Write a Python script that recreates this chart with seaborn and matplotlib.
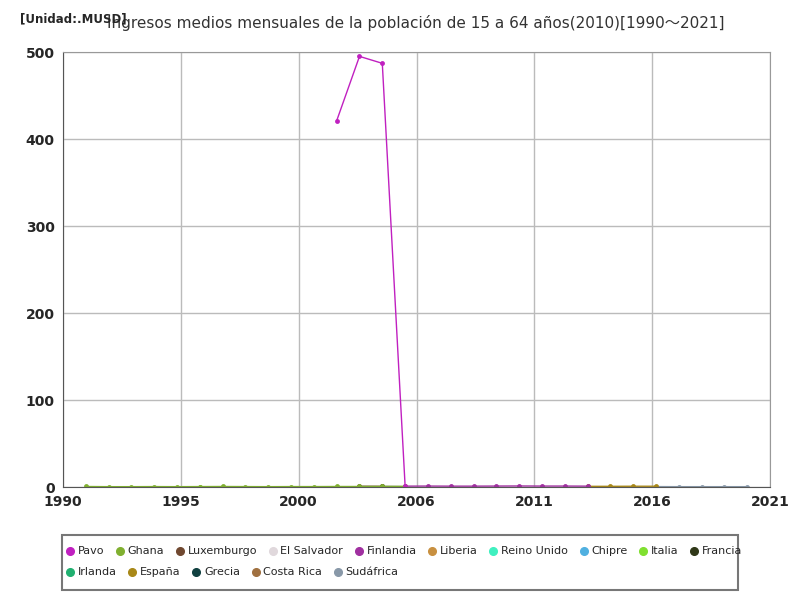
import seaborn as sns
import matplotlib.pyplot as plt
import numpy as np
import pandas as pd
from matplotlib.lines import Line2D
from matplotlib.patches import Rectangle

# datos (Unidad: MUSD)
pavo_years = [2002, 2003, 2004, 2005]
pavo_vals = [421, 495, 487, 1.5]

ghana_years = [1991, 1992, 1993, 1994, 1995, 1996, 1997, 1998, 1999, 2000, 2001, 2002, 2003, 2004, 2005]
ghana_vals = [0.6, 0.4, 0.4, 0.5, 0.4, 0.5, 0.6, 0.5, 0.4, 0.5, 0.5, 0.6, 0.6, 0.7, 0.7]

finlandia_years = [2005, 2006, 2007, 2008, 2009, 2010, 2011, 2012, 2013]
finlandia_vals = [1.0, 1.1, 1.0, 1.0, 1.1, 1.2, 1.1, 1.1, 1.0]

espana_years = [2013, 2014, 2015, 2016]
espana_vals = [0.8, 0.8, 0.9, 0.9]

sudafrica_years = [2016, 2017, 2018, 2019, 2020]
sudafrica_vals = [0.5, 0.4, 0.4, 0.4, 0.4]

luxemburgo_years = [2003, 2004]
luxemburgo_vals = [0.9, 0.8]

italia_years = [1996, 1997]
italia_vals = [0.3, 0.3]

francia_years = [2004, 2005]
francia_vals = [0.6, 0.5]

countries = ['Pavo', 'Ghana', 'Luxemburgo', 'El Salvador', 'Finlandia', 'Liberia', 'Reino Unido',
             'Chipre', 'Italia', 'Francia', 'Irlanda', 'España', 'Grecia', 'Costa Rica', 'Sudáfrica']
colors = ['#c020c0', '#80b030', '#704830', '#e0d8dc', '#a030a0', '#c89040', '#40f0c0',
          '#50b0e0', '#80e030', '#303818', '#20b070', '#a88818', '#104040', '#a07040', '#8898a8']

series = {
    'Pavo': (pavo_years, pavo_vals),
    'Ghana': (ghana_years, ghana_vals),
    'Luxemburgo': (luxemburgo_years, luxemburgo_vals),
    'Finlandia': (finlandia_years, finlandia_vals),
    'Italia': (italia_years, italia_vals),
    'Francia': (francia_years, francia_vals),
    'España': (espana_years, espana_vals),
    'Sudáfrica': (sudafrica_years, sudafrica_vals),
}

rows = []
for name, (ys, vs) in series.items():
    for y, v in zip(ys, vs):
        rows.append({'pais': name, 'anio': y, 'valor': v})
df = pd.DataFrame(rows)

sns.set_style("white")
plt.rcParams['font.family'] = ['DejaVu Sans']

fig = plt.figure(figsize=(8, 6), dpi=100)
ax = fig.add_axes([0.07875, 0.1883, 0.88375, 0.725])

palette = dict(zip(countries, colors))
# dibujar al revés para que Pavo quede encima
for name in list(series.keys())[::-1]:
    sub = df[df['pais'] == name]
    sns.lineplot(data=sub, x='anio', y='valor', color=palette[name], marker='o',
                 markersize=3.5, markeredgewidth=0, linewidth=1, ax=ax, legend=False)

ticks = np.linspace(1990, 2021, 7)
ax.set_xticks(ticks)
ax.set_xticklabels([str(int(np.floor(t + 0.5))) for t in ticks], fontweight='bold', fontsize=10)
ax.set_xlim(1990, 2021)
ax.set_ylim(0, 500)
ax.set_yticks([0, 100, 200, 300, 400, 500])
ax.set_yticklabels(['0', '100', '200', '300', '400', '500'], fontweight='bold', fontsize=10)
ax.set_xlabel('')
ax.set_ylabel('')
ax.grid(True, color='#bbbbbb', linewidth=1)
ax.tick_params(length=0, pad=6)
for s in ['top', 'right']:
    ax.spines[s].set_color('#999999')
for s in ['left', 'bottom']:
    ax.spines[s].set_color('#555555')

fig.text(0.52, 0.962, 'Ingresos medios mensuales de la población de 15 a 64 años(2010)[1990～2021]',
         ha='center', va='center', fontsize=11, color='#333333',
         family=['DejaVu Sans', 'Noto Sans CJK JP'])
fig.text(0.025, 0.968, '[Unidad:.MUSD]', ha='left', va='center', fontsize=8.5, fontweight='bold')

# leyenda en dos filas que fluyen por separado, con un marco común
def make_handles(idx):
    return [Line2D([0], [0], marker='o', linestyle='', color=colors[i], markersize=5.5) for i in idx]

legend_kw = dict(frameon=False, fontsize=8.0, handletextpad=0.3, columnspacing=1.0,
                 borderpad=0, handlelength=0.8, borderaxespad=0)
row1 = list(range(10))
row2 = list(range(10, 15))
leg1 = fig.legend(make_handles(row1), [countries[i] for i in row1], loc='center left',
                  bbox_to_anchor=(0.082, 0.081), ncol=10, **legend_kw)
leg2 = fig.legend(make_handles(row2), [countries[i] for i in row2], loc='center left',
                  bbox_to_anchor=(0.082, 0.046), ncol=5, **legend_kw)
fig.patches.append(Rectangle((0.0775, 0.0167), 0.845, 0.0917, transform=fig.transFigure,
                             fill=False, edgecolor='#777777', linewidth=1.5))

fig.savefig('out.png', dpi=100)
